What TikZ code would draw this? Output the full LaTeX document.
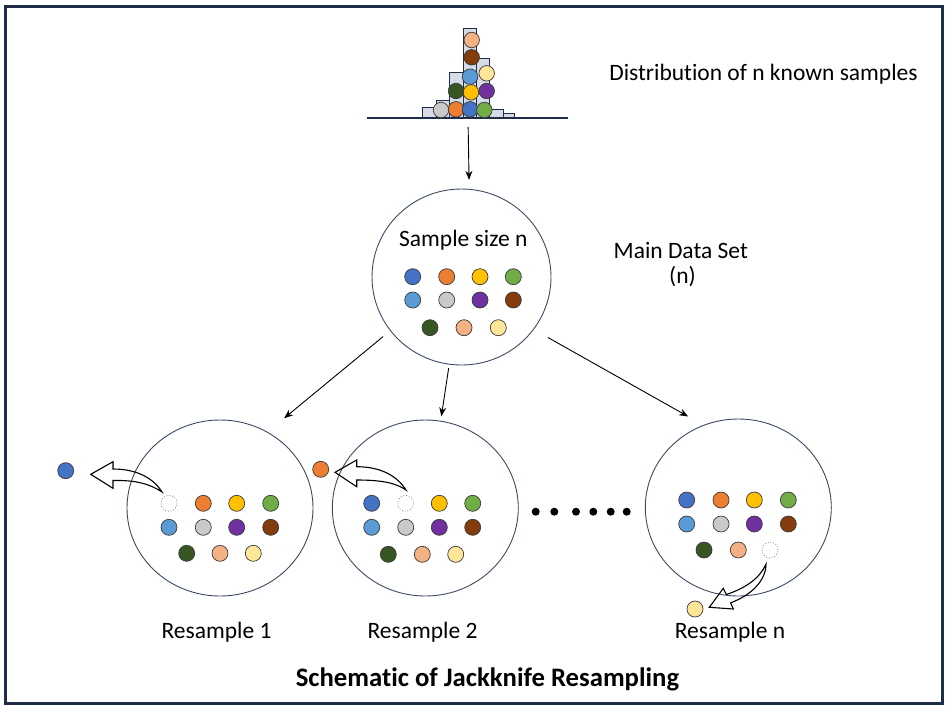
\documentclass[tikz,border=0pt]{standalone}
\usepackage{fontspec}
\setmainfont{Carlito}[Ligatures=NoCommon]
\usetikzlibrary{arrows.meta,shapes.geometric}
\definecolor{cBlue}{HTML}{4472C4}
\definecolor{cOrange}{HTML}{ED7D31}
\definecolor{cYellow}{HTML}{FFC000}
\definecolor{cGreen}{HTML}{70AD47}
\definecolor{cLBlue}{HTML}{5B9BD5}
\definecolor{cGray}{HTML}{C9C9C9}
\definecolor{cPurple}{HTML}{7030A0}
\definecolor{cBrown}{HTML}{843C0C}
\definecolor{cDGreen}{HTML}{375623}
\definecolor{cPeach}{HTML}{F4B183}
\definecolor{cLYellow}{HTML}{FFE699}
\definecolor{frameC}{HTML}{1F2D4A}
\definecolor{barC}{HTML}{D6DCE5}
\definecolor{ringC}{HTML}{3C4A64}
\definecolor{ballLine}{HTML}{3A3A3A}
\begin{document}
\begin{tikzpicture}[x=1pt,y=-1pt,
  ball/.style={circle, draw=ballLine, line width=0.7pt, minimum size=16pt, inner sep=0pt},
  hball/.style={ball, minimum size=15.5pt},
  hole/.style={circle, draw=gray, dotted, line width=0.8pt, minimum size=16pt, inner sep=0pt},
  bigc/.style={ellipse, draw=ringC, line width=0.9pt, inner sep=0pt, minimum width=186pt, minimum height=176pt},
  histbar/.style={draw=frameC, fill=barC, line width=0.9pt},
  arr/.style={-{Stealth[length=9pt,width=7pt]}, line width=0.9pt, black},
  hollow/.style={draw=black, line width=1.1pt, line join=miter, fill=none},
  lbl/.style={font=\fontsize{23.5}{28}\selectfont, anchor=base, inner sep=0pt},
  ttl/.style={font=\fontsize{26.7}{32}\selectfont\bfseries, anchor=base, inner sep=0pt},
  bigdot/.style={circle, fill=black, minimum size=8pt, inner sep=0pt}
]
\useasboundingbox (0,0) rectangle (949,712);
\fill[white] (0,0) rectangle (949,712);
\draw[line width=3pt, draw=frameC] (5.5,6) rectangle (942.5,703.5);

% histogram
\draw[histbar] (422,118) rectangle (436,107.7);
\draw[histbar] (436,118) rectangle (449,100.7);
\draw[histbar] (449,118) rectangle (463,72.3);
\draw[histbar] (463,118) rectangle (476,28.3);
\draw[histbar] (476,118) rectangle (489,58.3);
\draw[histbar] (489,118) rectangle (503,109.3);
\draw[histbar] (503,118) rectangle (514,113.3);
\coordinate (histbase) at (468,118);
\draw[line width=1.3pt, draw=frameC] (367,118) -- (568,118);
\node[hball, fill=cGray]    (h1)  at (441,110) {};
\node[hball, fill=cOrange]  (h2)  at (456,109.3) {};
\node[hball, fill=cBlue]    (h3)  at (470,109.3) {};
\node[hball, fill=cGreen]   (h4)  at (484.3,110) {};
\node[hball, fill=cDGreen]  (h5)  at (456,91) {};
\node[hball, fill=cYellow]  (h6)  at (471,92.3) {};
\node[hball, fill=cPurple]  (h7)  at (486.7,91) {};
\node[hball, fill=cLBlue]   (h8)  at (470,76.7) {};
\node[hball, fill=cLYellow] (h9)  at (486.7,73.3) {};
\node[hball, fill=cBrown]   (h10) at (471.7,57.3) {};
\node[hball, fill=cPeach]   (h11) at (471.7,40) {};

\node[lbl] (distlbl) at (763.5,80) {Distribution of n known samples};

% main circle
\node[bigc, minimum width=179pt, minimum height=176pt] (main) at (461.5,277) {};
\node[lbl] (mainlbl) at (463.3,246) {Sample size n};
\node[ball, fill=cBlue]    (m1)  at (412.7,276.7) {};
\node[ball, fill=cOrange]  (m2)  at (446.7,276.7) {};
\node[ball, fill=cYellow]  (m3)  at (480,276.7) {};
\node[ball, fill=cGreen]   (m4)  at (513.3,276.7) {};
\node[ball, fill=cLBlue]   (m5)  at (412.7,300) {};
\node[ball, fill=cGray]    (m6)  at (446.7,300) {};
\node[ball, fill=cPurple]  (m7)  at (480,300) {};
\node[ball, fill=cBrown]   (m8)  at (513.3,300) {};
\node[ball, fill=cDGreen]  (m9)  at (430,327.7) {};
\node[ball, fill=cPeach]   (m10) at (464,327.7) {};
\node[ball, fill=cLYellow] (m11) at (498.3,327.7) {};

\node[lbl] (mds) at (680.8,258.3) {Main Data Set};
\node[lbl] (mdsn) at (682.5,283) {(n)};

\draw[arr, shorten <=9pt, shorten >=9pt] (histbase) -- (main.85.8);

% resample circles
\node[bigc] (r1) at (220,508) {};
\node[bigc] (r2) at (425.3,508) {};
\node[bigc, minimum height=177pt] (rn) at (738.3,507.5) {};

\draw[arr, shorten <=9.1pt, shorten >=21.5pt] (main.217.6) -- (r1.58.5);
\draw[arr, shorten <=3.5pt, shorten >=4.5pt] (main.262.2) -- (r2.80.2);
\draw[arr, shorten <=16.3pt, shorten >=17.4pt] (main.324.35) -- (rn.113.3);

% resample 1
\node[hole]                (a1)  at (169,503.3) {};
\node[ball, fill=cOrange]  (a2)  at (203.3,503.3) {};
\node[ball, fill=cYellow]  (a3)  at (236.7,503.3) {};
\node[ball, fill=cGreen]   (a4)  at (270.7,503.3) {};
\node[ball, fill=cLBlue]   (a5)  at (169,527.3) {};
\node[ball, fill=cGray]    (a6)  at (203.3,527.3) {};
\node[ball, fill=cPurple]  (a7)  at (236.7,527.3) {};
\node[ball, fill=cBrown]   (a8)  at (270.7,527.3) {};
\node[ball, fill=cDGreen]  (a9)  at (186.7,553.3) {};
\node[ball, fill=cPeach]   (a10) at (220,553.3) {};
\node[ball, fill=cLYellow] (a11) at (253.3,553.3) {};
\node[ball, fill=cBlue]    (out1) at (65.7,470.7) {};
\draw[hollow] (113,469) .. controls (138,469) and (154,479) .. (162,492)
  .. controls (150,484) and (136,480) .. (113,480.5) -- (113,488.3) -- (90.7,474.3) -- (113,461.7) -- cycle;

% resample 2
\node[ball, fill=cBlue]    (b1)  at (371.7,503.3) {};
\node[hole]                (b2)  at (405.7,503.3) {};
\node[ball, fill=cYellow]  (b3)  at (439.3,503.3) {};
\node[ball, fill=cGreen]   (b4)  at (472.7,503.3) {};
\node[ball, fill=cLBlue]   (b5)  at (371.7,527.3) {};
\node[ball, fill=cGray]    (b6)  at (405.7,527.3) {};
\node[ball, fill=cPurple]  (b7)  at (439.3,527.3) {};
\node[ball, fill=cBrown]   (b8)  at (472.7,527.3) {};
\node[ball, fill=cDGreen]  (b9)  at (388.3,554.3) {};
\node[ball, fill=cPeach]   (b10) at (422.3,554.3) {};
\node[ball, fill=cLYellow] (b11) at (455.7,554.3) {};
\node[ball, fill=cOrange]  (out2) at (320.7,469.3) {};
\draw[hollow] (356.7,466.7) .. controls (382,466.7) and (398,477) .. (406,490)
  .. controls (396,483) and (382,480) .. (356.7,480) -- (356.7,486.7) -- (335,472.3) -- (356.7,460) -- cycle;

% resample n
\node[ball, fill=cBlue]    (c1)  at (686.7,500) {};
\node[ball, fill=cOrange]  (c2)  at (721,500) {};
\node[ball, fill=cYellow]  (c3)  at (754.3,500) {};
\node[ball, fill=cGreen]   (c4)  at (788.3,500) {};
\node[ball, fill=cLBlue]   (c5)  at (686.7,524) {};
\node[ball, fill=cGray]    (c6)  at (721,524) {};
\node[ball, fill=cPurple]  (c7)  at (754.3,524) {};
\node[ball, fill=cBrown]   (c8)  at (788.3,524) {};
\node[ball, fill=cDGreen]  (c9)  at (704,550) {};
\node[ball, fill=cPeach]   (c10) at (738.3,550) {};
\node[hole]                (c11) at (770,550) {};
\node[ball, fill=cLYellow] (outn) at (695,609) {};
\draw[hollow] (766,564) .. controls (760,578) and (746,588) .. (726.3,594.5) -- (723.3,588.3) -- (709.3,607.3) -- (733.3,609) -- (730.6,602.8)
  .. controls (752,595) and (766,580) .. (766,564) -- cycle;

% dots
\foreach \x [count=\i] in {535.7,554.3,576,593.3,610.7,626.7}
  \node[bigdot] (d\i) at (\x,511.7) {};

% labels
\node[lbl] (l1) at (216.5,638) {Resample 1};
\node[lbl] (l2) at (422.5,638) {Resample 2};
\node[lbl] (ln) at (730,638) {Resample n};
\node[ttl] (title) at (487.5,686.7) {Schematic of Jackknife Resampling};
\end{tikzpicture}
\end{document}
